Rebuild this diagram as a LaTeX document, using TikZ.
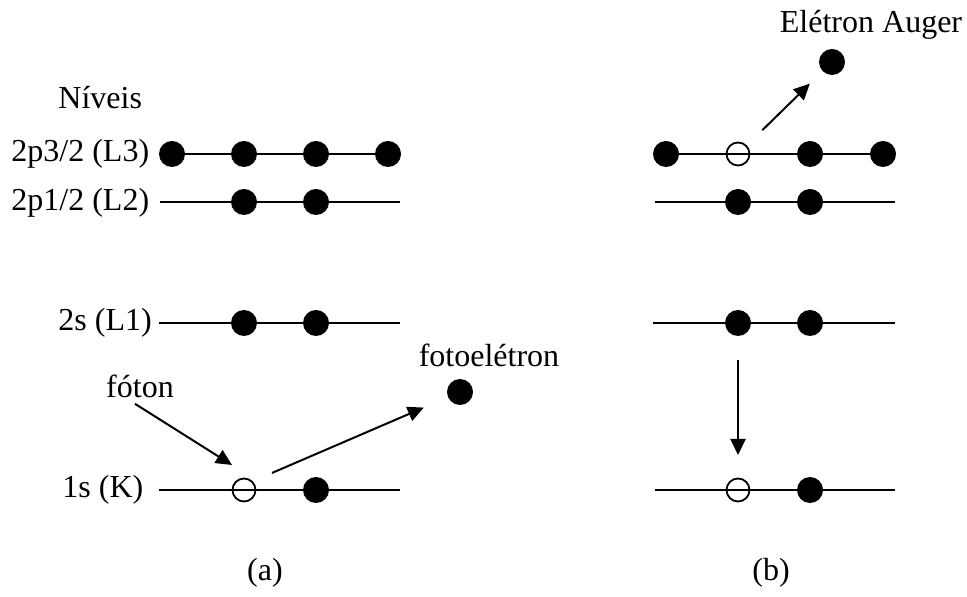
\documentclass[tikz,border=0pt]{standalone}
\usepackage{fontspec}
\setmainfont{Liberation Serif}
\usetikzlibrary{arrows.meta, positioning}
\tikzset{
	elec/.style={circle, fill=black, inner sep=0pt, minimum size=13pt},
	hole/.style={circle, draw=black, line width=0.9pt, inner sep=0pt, minimum size=11.5pt},
	level/.style={line width=1pt},
	lbl/.style={font=\fontsize{16}{19}\selectfont, inner sep=0pt},
	arrow/.style={-{Triangle[length=8pt, width=7.5pt]}, line width=1pt},
}

\begin{document}
\begin{tikzpicture}[x=0.5pt, y=-0.5pt]
	\useasboundingbox (0,0) rectangle (967,597);
	% labels
	\node[lbl, anchor=west](niveis) at (58,98){Níveis};
	\node[lbl, anchor=west](lL3) at (11,154){2p3/2 (L3)};
	\node[lbl, anchor=west](lL2) at (11,203){2p1/2 (L2)};
	\node[lbl, anchor=west](lL1) at (58,323){2s (L1)};
	\node[lbl, anchor=west](lK) at (62,490){1s (K)};
	% level ends
	\coordinate(a2s) at (160,202); \coordinate(a2e) at (400,202);
	\coordinate(a1s) at (159,323); \coordinate(a1e) at (400,323);
	\coordinate(aKs) at (159,490); \coordinate(aKe) at (400,490);
	\coordinate(b2s) at (655,202); \coordinate(b2e) at (895,202);
	\coordinate(b1s) at (653,323); \coordinate(b1e) at (895,323);
	\coordinate(bKs) at (655,490); \coordinate(bKe) at (895,490);
	\draw[level](172,154)--(388,154); \draw[level](a2s)--(a2e);
	\draw[level](a1s)--(a1e); \draw[level](aKs)--(aKe);
	\draw[level](666,154)--(883,154); \draw[level](b2s)--(b2e);
	\draw[level](b1s)--(b1e); \draw[level](bKs)--(bKe);
	% (a)
	\node[elec](a3a) at (172,154){}; \node[elec](a3b) at (244,154){};
	\node[elec](a3c) at (316,154){}; \node[elec](a3d) at (388,154){};
	\node[elec](a2a) at (244,202){}; \node[elec](a2b) at (316,202){};
	\node[elec](a1a) at (244,323){}; \node[elec](a1b) at (316,323){};
	\node[hole](aKh) at (244,490){}; \node[elec](aKa) at (316,490){};
	\node[elec](pe) at (460,392){};
	\node[lbl](foton) at (140,386){fóton};
	\node[lbl](pelbl) at (489,355){fotoelétron};
	\coordinate(ftip) at (232,465);
	\draw[arrow]([xshift=-2.5pt,yshift=-3pt]foton.south)--(ftip);
	\draw[arrow, shorten <=10.5pt, shorten >=13pt](aKh.45)--(pe);
	\node[lbl](capa) at (265,573){(a)};
	% (b)
	\node[elec](b3a) at (666,154){}; \node[hole](b3h) at (738,154){};
	\node[elec](b3c) at (810,154){}; \node[elec](b3d) at (883,154){};
	\node[elec](b2a) at (738,202){}; \node[elec](b2b) at (810,202){};
	\node[elec](b1a) at (738,323){}; \node[elec](b1b) at (810,323){};
	\node[hole](bKh) at (738,490){}; \node[elec](bKa) at (810,490){};
	\node[elec](ae) at (832,62){};
	\node[lbl](aelbl) at (871,25){Elétron Auger};
	\draw[arrow, shorten <=10.8pt, shorten >=8.8pt](b3h)--(ae);
	\draw[arrow, shorten <=12pt, shorten >=11.3pt](b1a)--(bKh);
	\node[lbl](capb) at (771,573){(b)};
\end{tikzpicture}
\end{document}
